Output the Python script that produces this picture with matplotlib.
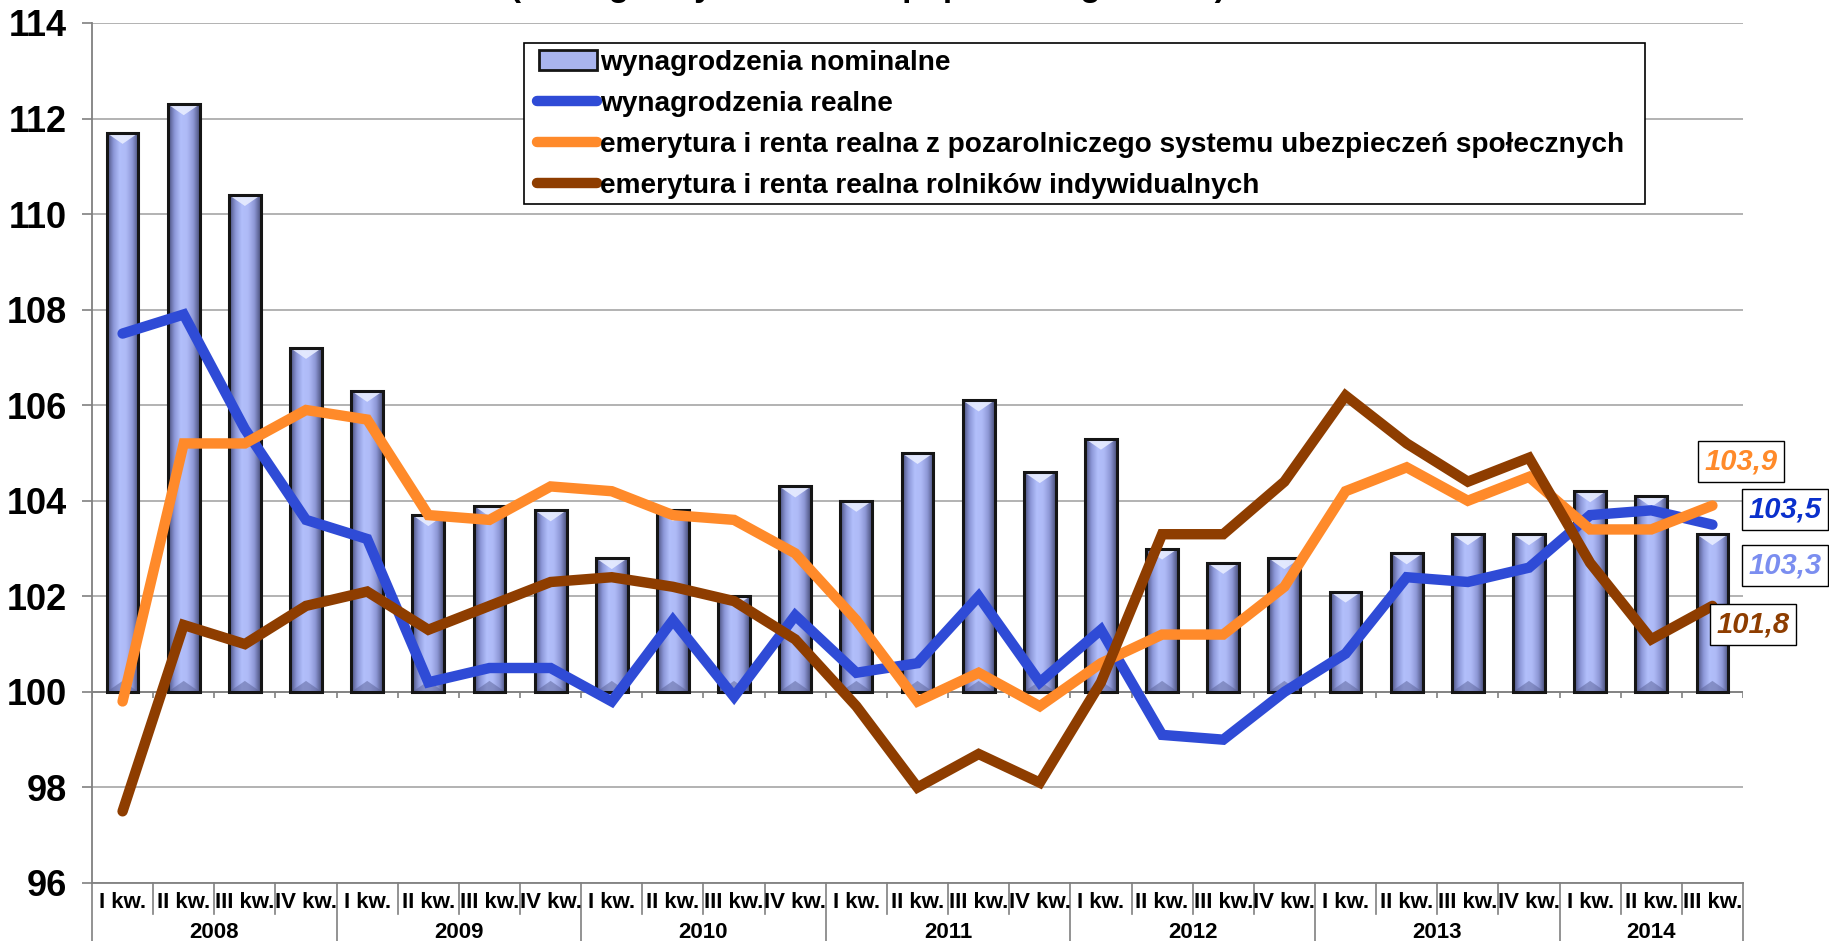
import numpy as np
import matplotlib
matplotlib.use('Agg')
import matplotlib.pyplot as plt
import matplotlib.transforms as mtransforms
from matplotlib.colors import LinearSegmentedColormap
from matplotlib.patches import Rectangle, Polygon
from matplotlib.lines import Line2D
from matplotlib.legend_handler import HandlerLine2D, HandlerPatch

plt.rcParams['font.family'] = ['Liberation Sans', 'DejaVu Sans']
plt.rcParams['font.weight'] = 'bold'

# data (same period of previous year = 100)
years = ['2008', '2009', '2010', '2011', '2012', '2013', '2014']
quarters_per_year = [4, 4, 4, 4, 4, 4, 3]
quarter_labels = ['I kw.', 'II kw.', 'III kw.', 'IV kw.'] * 6 + ['I kw.', 'II kw.', 'III kw.']

nominal = [111.7, 112.3, 110.4, 107.2, 106.3, 103.7, 103.9, 103.8, 102.8, 103.8, 102.0, 104.3,
           104.0, 105.0, 106.1, 104.6, 105.3, 103.0, 102.7, 102.8, 102.1, 102.9, 103.3, 103.3,
           104.2, 104.1, 103.3]
real_wages = [107.5, 107.9, 105.5, 103.6, 103.2, 100.2, 100.5, 100.5, 99.8, 101.5, 99.9, 101.6,
              100.4, 100.6, 102.0, 100.2, 101.3, 99.1, 99.0, 100.0, 100.8, 102.4, 102.3, 102.6,
              103.7, 103.8, 103.5]
pension_nonagri = [99.8, 105.2, 105.2, 105.9, 105.7, 103.7, 103.6, 104.3, 104.2, 103.7, 103.6, 102.9,
                   101.5, 99.8, 100.4, 99.7, 100.6, 101.2, 101.2, 102.2, 104.2, 104.7, 104.0, 104.5,
                   103.4, 103.4, 103.9]
pension_farmers = [97.5, 101.4, 101.0, 101.8, 102.1, 101.3, 101.8, 102.3, 102.4, 102.2, 101.9, 101.1,
                   99.7, 98.0, 98.7, 98.1, 100.2, 103.3, 103.3, 104.4, 106.2, 105.2, 104.4, 104.9,
                   102.7, 101.1, 101.8]

series_names = ['wynagrodzenia nominalne',
                'wynagrodzenia realne',
                'emerytura i renta realna z pozarolniczego systemu ubezpieczeń społecznych',
                'emerytura i renta realna rolników indywidualnych']

c_bar = '#a9b4ee'
c_blue = '#2f4bd6'
c_orange = '#ff8a2a'
c_brown = '#8e3d00'
c_gray = '#808080'

W, H, DPI = 1829, 941, 100
fig = plt.figure(figsize=(W / DPI, H / DPI), dpi=DPI)
ax = fig.add_axes([92 / W, 1 - 883 / H, (1743 - 92) / W, (883 - 23) / H])

x = np.arange(len(nominal))
nom = np.array(nominal)
ymin, ymax = 96, 114
px_per_unit = (883 - 23) / (ymax - ymin)

# grid and the category axis crossing at 100
ax.set_axisbelow(True)
ax.yaxis.grid(True, color='#a6a6a6', lw=1.2)
ax.axhline(100, color=c_gray, lw=1.3, zorder=1.5)
bounds = np.arange(len(nominal) + 1) - 0.5
ax.vlines(bounds, 100 - 6 / px_per_unit, 100, color=c_gray, lw=1.2, zorder=1.5)

# bars with a shaded face
bars = ax.bar(x, nom - 100, bottom=100, width=0.52, facecolor='none',
              edgecolor='#151515', linewidth=2.2, zorder=3)
cmap = LinearSegmentedColormap.from_list('bar', ['#474d7a', '#8c97d8', '#b2bffb', '#aebaf6', '#8e98d6', '#4a507c'])
grad = np.linspace(0, 1, 64).reshape(1, -1)
bev = 11 / px_per_unit
for b in bars:
    x0, w, y0, h = b.get_x(), b.get_width(), b.get_y(), b.get_height()
    im = ax.imshow(grad, extent=[x0, x0 + w, y0, y0 + h], aspect='auto', cmap=cmap,
                   zorder=2, interpolation='bicubic')
    im.set_clip_path(b)
    xc = x0 + w / 2
    ax.add_patch(Polygon([[x0, y0 + h], [x0 + w, y0 + h], [xc, y0 + h - bev]],
                         closed=True, fc='#e8edff', ec='none', alpha=0.9, zorder=2.5))
    ax.add_patch(Polygon([[x0, y0], [x0 + w, y0], [xc, y0 + bev]],
                         closed=True, fc='#5a6196', ec='none', alpha=0.5, zorder=2.5))

# lines
for vals, col in [(real_wages, c_blue), (pension_nonagri, c_orange), (pension_farmers, c_brown)]:
    ax.plot(x, vals, color=col, lw=7.5, solid_capstyle='round', solid_joinstyle='miter', zorder=4)

ax.set_xlim(-0.5, len(nominal) - 0.5)
ax.set_ylim(ymin, ymax)
ax.set_yticks(np.arange(ymin, ymax + 1, 2))
ax.set_xticks([])
ax.tick_params(axis='y', direction='out', length=7, width=1.2, color=c_gray, labelsize=26, pad=11)
for s in ['top', 'right']:
    ax.spines[s].set_visible(False)
for s in ['left', 'bottom']:
    ax.spines[s].set_color(c_gray)
    ax.spines[s].set_linewidth(1.3)

# category strip below the plot
trans = mtransforms.blended_transform_factory(ax.transData, ax.transAxes)
ax_h = 883 - 23
for i, lab in enumerate(quarter_labels):
    ax.text(i, -19 / ax_h, lab, transform=trans, ha='center', va='center', fontsize=16)
starts = np.concatenate([[0], np.cumsum(quarters_per_year)])
for k, yr in enumerate(years):
    mid = (starts[k] + starts[k + 1] - 1) / 2
    ax.text(mid, -50 / ax_h, yr, transform=trans, ha='center', va='center', fontsize=16)
for bnd in bounds:
    idx = int(bnd + 0.5)
    depth = 58 if idx in starts else 31
    ax.plot([bnd, bnd], [0, -depth / ax_h], transform=trans, color=c_gray, lw=1.2, clip_on=False)

# value labels at the last quarter
def fmt(v):
    return f'{v:.1f}'.replace('.', ',')

last = len(nominal) - 1
labels = [(pension_nonagri[-1], c_orange, (29, 44)),
          (real_wages[-1], '#0a30cc', (73, 15)),
          (nominal[-1], '#7b8ef0', (73, -31)),
          (pension_farmers[-1], c_brown, (41, -19))]
for v, col, off in labels:
    ax.annotate(fmt(v), xy=(last, v), xytext=off, textcoords='offset pixels',
                ha='center', va='center', fontsize=21, fontstyle='italic', color=col,
                annotation_clip=False, zorder=6,
                bbox=dict(boxstyle='square,pad=0.22', fc='white', ec='black', lw=1))

# legend: separate frame, entries placed inside it
ax.add_patch(Rectangle((524 / W, 1 - 204 / H), (1645 - 524) / W, (204 - 43) / H,
                       transform=fig.transFigure, fc='white', ec='black', lw=1.2,
                       clip_on=False, zorder=6.5))
handles = [Rectangle((0, 0), 1, 1, fc=c_bar, ec='#151515', lw=2),
           Line2D([], [], color=c_blue, lw=7.5, solid_capstyle='round'),
           Line2D([], [], color=c_orange, lw=7.5, solid_capstyle='round'),
           Line2D([], [], color=c_brown, lw=7.5, solid_capstyle='round')]
leg = ax.legend(handles, series_names, loc='upper left', bbox_to_anchor=(524 / W, 1 - 43 / H),
                bbox_transform=fig.transFigure, borderaxespad=0, fontsize=20.2,
                handlelength=2.35, handleheight=0.7, handletextpad=0.12, labelspacing=0.53,
                borderpad=0.25, frameon=False,
                handler_map={Line2D: HandlerLine2D(xpad=0.22), Rectangle: HandlerPatch(xpad=0.3)})
leg.set_zorder(7)

# title, cut off at the top edge
fig.text(868 / W, 1 + 4 / H, '(analogiczny okres roku poprzedniego = 100)',
         ha='center', va='baseline', fontsize=24)

fig.savefig('out.png', dpi=DPI)
